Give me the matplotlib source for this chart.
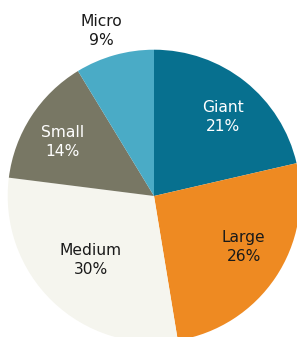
import matplotlib
matplotlib.use("Agg")
import matplotlib.pyplot as plt

# 數據（扇區大小依圖片量測，標籤為圖上顯示的整數百分比）
categories = ["Giant", "Large", "Medium", "Small", "Micro"]
shares = [21.4, 26.0, 29.6, 14.3, 8.7]
pct_labels = ["21%", "26%", "30%", "14%", "9%"]
colors = ["#07708f", "#ee8a22", "#f5f5ee", "#787764", "#4aabc6"]
label_colors = ["white", "#1a1a1a", "#1a1a1a", "white", "#1a1a1a"]
# 標籤位置（以半徑為單位）
label_pos = [(0.473, 0.538), (0.613, -0.349), (-0.432, -0.438),
             (-0.627, 0.370), (-0.360, 1.127)]

fig = plt.figure(figsize=(2.97, 3.37), dpi=100)
ax = fig.add_axes([0, 0, 1, 1])

wedges, _ = ax.pie(shares, colors=colors, startangle=90, counterclock=False,
                   radius=1.0, wedgeprops=dict(linewidth=0))

for name, pct, c, (x, y) in zip(categories, pct_labels, label_colors, label_pos):
    ax.text(x, y, f"{name}\n{pct}", ha="center", va="center",
            fontsize=11.2, color=c, family="DejaVu Sans", linespacing=1.35)

r_px = 146.3
ax.set_xlim(-154 / r_px, (297 - 154) / r_px)
ax.set_ylim(-(337 - 196) / r_px, 196 / r_px)
ax.set_aspect("auto")
ax.axis("off")

fig.savefig("out.png", dpi=100)
